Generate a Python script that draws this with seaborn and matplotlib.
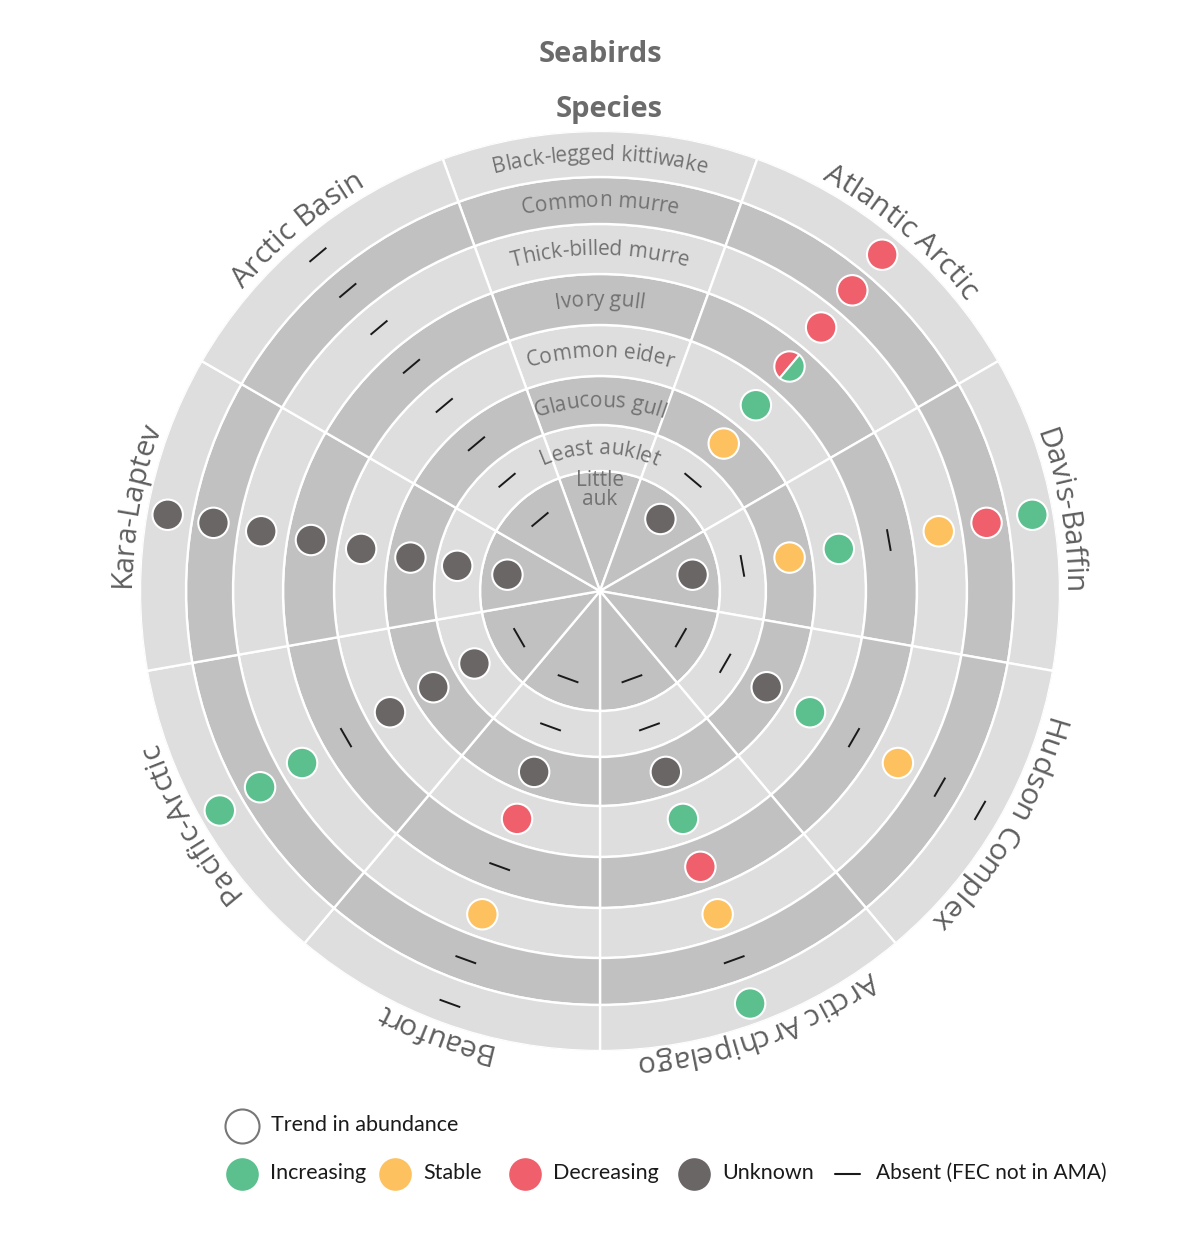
import numpy as np
import pandas as pd
import matplotlib
matplotlib.use("Agg")
import matplotlib.pyplot as plt
import seaborn as sns
from matplotlib import font_manager
from matplotlib.figure import Figure
from matplotlib.backends.backend_agg import FigureCanvasAgg
from matplotlib.ft2font import FT2Font
from matplotlib.markers import MarkerStyle
from matplotlib.transforms import Affine2D, IdentityTransform

# species, outermost ring first
species = ["Black-legged kittiwake", "Common murre", "Thick-billed murre", "Ivory gull",
           "Common eider", "Glaucous gull", "Least auklet", "Little auk"]

# regions clockwise, starting right of the species wedge
regions = ["Atlantic Arctic", "Davis-Baffin", "Hudson Complex", "Arctic Archipelago",
           "Beaufort", "Pacific-Arctic", "Kara-Laptev", "Arctic Basin"]

# trend per region, same order as species ("Mixed" = decreasing + increasing)
atlantic_arctic = ["Decreasing", "Decreasing", "Decreasing", "Mixed",
                   "Increasing", "Stable", "Absent", "Unknown"]
davis_baffin = ["Increasing", "Decreasing", "Stable", "Absent",
                "Increasing", "Stable", "Absent", "Unknown"]
hudson_complex = ["Absent", "Absent", "Stable", "Absent",
                  "Increasing", "Unknown", "Absent", "Absent"]
arctic_archipelago = ["Increasing", "Absent", "Stable", "Decreasing",
                      "Increasing", "Unknown", "Absent", "Absent"]
beaufort = ["Absent", "Absent", "Stable", "Absent",
            "Decreasing", "Unknown", "Absent", "Absent"]
pacific_arctic = ["Increasing", "Increasing", "Increasing", "Absent",
                  "Unknown", "Unknown", "Unknown", "Absent"]
kara_laptev = ["Unknown", "Unknown", "Unknown", "Unknown",
               "Unknown", "Unknown", "Unknown", "Unknown"]
arctic_basin = ["Absent", "Absent", "Absent", "Absent",
                "Absent", "Absent", "Absent", "Absent"]

legend_labels = ["Increasing", "Stable", "Decreasing", "Unknown"]

trend_colors = {"Increasing": "#5bbf8e", "Stable": "#fdc25f",
                "Decreasing": "#ef5f6c", "Unknown": "#6b6666"}
LIGHT, DARK = "#dedede", "#c1c1c1"
TXT = "#727272"
ARC_FONT = "Open Sans"

# layout (pixels, figure is 1200 x 1237 at dpi 100)
W, H = 1200, 1237
CX, CY, R = 600, 591, 460
ring_edges = np.array([0, 120, 166, 215, 266, 317, 367, 414, 460])  # inner -> outer
SECTOR = 40

sns.set_theme(style="white")
plt.rcParams["font.family"] = ["Lato", "DejaVu Sans"]

trends = [atlantic_arctic, davis_baffin, hudson_complex, arctic_archipelago,
          beaufort, pacific_arctic, kara_laptev, arctic_basin]

mids = (ring_edges[:-1] + ring_edges[1:]) / 2 + 2
mids[0] = 94
rows = []
for i, reg in enumerate(regions):
    for s, sp in enumerate(species):
        j = len(species) - 1 - s
        rows.append({"region": reg, "species": sp, "trend": trends[i][s],
                     "theta": np.deg2rad(SECTOR * (i + 1)), "r": mids[j]})
df = pd.DataFrame(rows)

# small scratch canvas: rotated Agg glyphs drift a little, so measure and correct
scratch = Figure(figsize=(1.2, 1.2), dpi=100)
FigureCanvasAgg(scratch)
_c0_cache = {}


def ink_centroid(c, rot, size, weight):
    t = scratch.text(60, 60, c, transform=IdentityTransform(), rotation=rot,
                     rotation_mode="anchor", ha="left", va="baseline", fontsize=size,
                     fontfamily=ARC_FONT, fontweight=weight, color="black")
    scratch.canvas.draw()
    img = np.asarray(scratch.canvas.buffer_rgba())[:, :, 0].astype(float)
    t.remove()
    w = 255.0 - img
    rr, cc = np.mgrid[0:img.shape[0], 0:img.shape[1]]
    tot = w.sum()
    if tot == 0:
        return np.zeros(2)
    x = (w * (cc + 0.5)).sum() / tot - 60
    y = (w * (img.shape[0] - rr - 0.5)).sum() / tot - 60
    return np.array([x, y])


def arc_text(ax, text, theta_mid, r, size, color, weight="normal"):
    # lay the characters one by one along a clockwise arc, tops outward
    prop = font_manager.FontProperties(family=ARC_FONT, weight=weight, size=size)
    font = FT2Font(font_manager.findfont(prop))
    font.set_size(size, 100)
    adv = [font.load_char(ord(c)).linearHoriAdvance / 65536 for c in text]
    pos = -sum(adv) / 2
    center = np.array([CX, H - CY], dtype=float)
    for c, a in zip(text, adv):
        if c != " ":
            th = theta_mid + (pos + a / 2) / r
            rot = -np.degrees(th)
            u = np.array([np.cos(th), -np.sin(th)])
            pen = center + r * np.array([np.sin(th), np.cos(th)]) - a / 2 * u
            key = (c, size, weight)
            if key not in _c0_cache:
                _c0_cache[key] = ink_centroid(c, 0, size, weight)
            c0 = _c0_cache[key]
            rr = np.radians(rot)
            want = np.array([c0[0] * np.cos(rr) - c0[1] * np.sin(rr),
                             c0[0] * np.sin(rr) + c0[1] * np.cos(rr)])
            got = ink_centroid(c, rot, size, weight)
            p = pen + want - got - center
            ax.text(np.arctan2(p[0], p[1]), np.hypot(p[0], p[1]), c, rotation=rot,
                    rotation_mode="anchor", ha="left", va="baseline", fontsize=size,
                    color=color, fontweight=weight, fontfamily=ARC_FONT, zorder=5)
        pos += a


fig = plt.figure(figsize=(W / 100, H / 100), dpi=100)
ax = fig.add_axes([(CX - R) / W, 1 - (CY + R) / H, 2 * R / W, 2 * R / H],
                  projection="polar")
ax.set_theta_zero_location("N")
ax.set_theta_direction(-1)

# rings x sectors
thetas = np.deg2rad(np.arange(9) * SECTOR)
for j in range(len(ring_edges) - 1):
    ax.bar(thetas, ring_edges[j + 1] - ring_edges[j], width=np.deg2rad(SECTOR),
           bottom=ring_edges[j], color=DARK if j % 2 == 0 else LIGHT,
           edgecolor="white", linewidth=1.7, zorder=1)

# trend dots
dots = df[df["trend"].isin(trend_colors)]
sns.scatterplot(data=dots, x="theta", y="r", hue="trend", palette=trend_colors,
                s=480, edgecolor="white", linewidth=1.5, legend=False, ax=ax, zorder=3)

# split dot
for _, row in df[df["trend"] == "Mixed"].iterrows():
    m = MarkerStyle("o", fillstyle="left",
                    transform=Affine2D().rotate_deg(-np.degrees(row["theta"])))
    ax.plot(row["theta"], row["r"], marker=m, ms=21.9,
            mfc=trend_colors["Decreasing"], mfcalt=trend_colors["Increasing"],
            mec="white", mew=1.5, zorder=3)

# absent dashes, tangential
for _, row in df[df["trend"] == "Absent"].iterrows():
    d = 11 / row["r"]
    ax.plot([row["theta"] - d, row["theta"] + d], [row["r"], row["r"]],
            color="#1a1a1a", lw=1.4, solid_capstyle="butt", zorder=3)

# species names in the top wedge
for s, sp in enumerate(species[:-1]):
    j = len(species) - 1 - s
    arc_text(ax, sp, 0.0, (ring_edges[j] + ring_edges[j + 1]) / 2 - 6, 15, TXT)
ax.text(0, 101, "Little\nauk", ha="center", va="center", fontsize=15,
        color=TXT, fontfamily=ARC_FONT, linespacing=0.9, zorder=5)

# region names round the rim
for i, reg in enumerate(regions):
    arc_text(ax, reg, np.deg2rad(SECTOR * (i + 1)), 468, 21.5, "#5f5f5f")

ax.set_thetalim(0, 2 * np.pi)
ax.set_ylim(0, R)
ax.axis("off")

fig.text(0.5, 1 - 54 / H, "Seabirds", ha="center", va="center", fontsize=21,
         fontweight="bold", color="#6b6b6b", fontfamily=ARC_FONT)
fig.text(609 / W, 1 - 109 / H, "Species", ha="center", va="center", fontsize=21,
         fontweight="bold", color="#6b6b6b", fontfamily=ARC_FONT)

# legend
lax = fig.add_axes([0, 0, 1, 1])
lax.set_xlim(0, W)
lax.set_ylim(H, 0)
lax.axis("off")
lax.scatter([242], [1126], s=600, facecolor="white", edgecolor="#777777", linewidth=1.5)
lax.text(271, 1125, "Trend in abundance", va="center", fontsize=15.5, color="#1a1a1a")
leg_x = [242, 395, 525, 694]
for x, lab in zip(leg_x, legend_labels):
    lax.scatter([x], [1174], s=600, color=trend_colors[lab], edgecolor="white", linewidth=1)
    lax.text(x + 28, 1173, lab, va="center", fontsize=15.5, color="#1a1a1a")
lax.plot([835, 860], [1174, 1174], color="#1a1a1a", lw=1.5)
lax.text(876, 1173, "Absent (FEC not in AMA)", va="center", fontsize=15, color="#1a1a1a")

fig.savefig("out.png", dpi=100)
